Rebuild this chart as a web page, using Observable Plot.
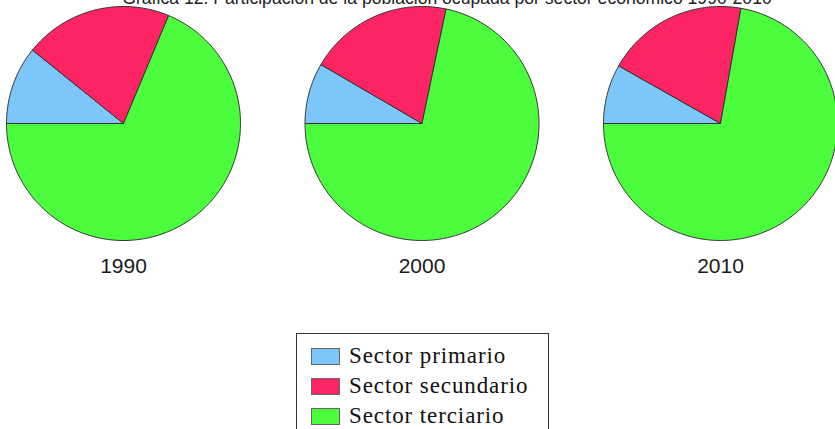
<!DOCTYPE html>
<html>
<head>
<meta charset="utf-8">
<script src="https://cdn.jsdelivr.net/npm/d3@7"></script>
<script src="https://cdn.jsdelivr.net/npm/@observablehq/plot@0.6"></script>
<style>
  html, body { margin: 0; padding: 0; background: #fff; overflow: hidden; }
  body { width: 835px; height: 429px; position: relative; }
  #title { position: absolute; left: 0; width: 894px; top: -10px; text-align: center;
    font: 17.6px "Liberation Sans", Arial, sans-serif; color: #222; white-space: nowrap; line-height: 17px; }
  #chart { position: absolute; left: 0; top: 0; }
  #legend { position: absolute; left: 296px; top: 333px; width: 251px; height: 120px;
    border: 1px solid #333; background: #fff; }
  .item { position: absolute; left: 14px; height: 30px; display: flex; align-items: center;
    font: 23px "Liberation Serif", "Times New Roman", serif; color: #111; letter-spacing: 0.9px; }
  .sw { width: 27px; height: 15px; border: 1px solid #666; margin-right: 9px; }
</style>
</head>
<body>
<div id="title">Gráfica 12. Participación de la población ocupada por sector económico 1990-2010</div>
<div id="chart"></div>
<div id="legend"></div>
<script>
// ---- data ----
const years = ["1990", "2000", "2010"];
const sectors = ["Sector primario", "Sector secundario", "Sector terciario"];
const primario = [10.8, 8.4, 8.2];
const secundario = [20.5, 19.9, 19.6];
const terciario = [68.7, 71.7, 72.2];
const colors = ["#7cc6f9", "#fd2463", "#4cfd3d"];

// ---- layout ----
const W = 835, H = 300;
const R = 117, CY = 123, CX0 = 123, DX = 298.5;

const series = [primario, secundario, terciario];
const points = [];
years.forEach((yr, i) => {
  const cx = CX0 + i * DX;
  let start = 0;
  series.forEach((vals, s) => {
    const a0 = start, a1 = start + vals[i] / 100 * 360;
    start = a1;
    const id = yr + "-" + s;
    const pts = [[cx, CY]];
    const n = Math.max(2, Math.ceil(a1 - a0));
    for (let k = 0; k <= n; k++) {
      const t = (a0 + (a1 - a0) * k / n) * Math.PI / 180;
      pts.push([cx - R * Math.cos(t), CY - R * Math.sin(t)]);
    }
    pts.push([cx, CY]);
    pts.forEach(p => points.push({id, sector: sectors[s], x: p[0], y: p[1]}));
  });
});
const labels = years.map((yr, i) => ({year: yr, x: CX0 + i * DX, y: 266}));

const plot = Plot.plot({
  width: W, height: H, margin: 0,
  x: {domain: [0, W], range: [0, W], axis: null},
  y: {domain: [0, H], range: [0, H], axis: null},
  color: {domain: sectors, range: colors},
  marks: [
    Plot.line(points, {x: "x", y: "y", z: "id", fill: "sector", stroke: "#333", strokeWidth: 1, strokeLinejoin: "round"}),
    Plot.text(labels, {x: "x", y: "y", text: "year", fontSize: 21, fill: "#1a1a1a",
      fontFamily: "Liberation Sans, Arial, sans-serif", textAnchor: "middle"})
  ]
});
plot.style.fontFamily = "Liberation Sans, Arial, sans-serif";
document.getElementById("chart").appendChild(plot);

const legend = document.getElementById("legend");
sectors.forEach((s, i) => {
  const d = document.createElement("div");
  d.className = "item";
  d.style.top = (7 + i * 30) + "px";
  d.innerHTML = `<span class="sw" style="background:${colors[i]}"></span><span>${s}</span>`;
  legend.appendChild(d);
});
</script>
</body>
</html>
